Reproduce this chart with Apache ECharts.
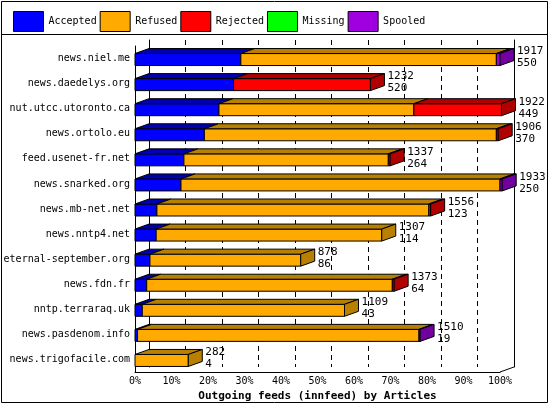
<!DOCTYPE html><html><head><meta charset="utf-8">
<script src="https://cdn.jsdelivr.net/npm/echarts@6/dist/echarts.min.js"></script>
<style>html,body{margin:0;padding:0;background:#fff}#c{width:550px;height:405px}</style></head><body><div id="c"></div>
<script>
const categories=["news.niel.me","news.daedelys.org","nut.utcc.utoronto.ca","news.ortolo.eu","feed.usenet-fr.net","news.snarked.org","news.mb-net.net","news.nntp4.net","eternal-september.org","news.fdn.fr","nntp.terraraq.uk","news.pasdenom.info","news.trigofacile.com"];
const accepted=[29,27,23,19,13.4,12.6,6,5.8,4.1,3.2,2,0.7,0];
const refused=[70,0,53.4,80,56,87.4,74.5,61.8,41.3,67.3,55.4,77.1,14.6];
const rejected=[0,37.5,24,0.5,0.5,0,0.5,0,0,0.5,0,0,0];
const missing=[0,0,0,0,0,0,0,0,0,0,0,0,0];
const spooled=[1,0,0,0,0,0.6,0,0,0,0,0,0.3,0];
const totals=[1917,1232,1922,1906,1337,1933,1556,1307,878,1373,1109,1510,282];
const acceptedCount=[550,520,449,370,264,250,123,114,86,64,43,19,4];
const tickLabels=["0%","10%","20%","30%","40%","50%","60%","70%","80%","90%","100%"];
const names=["Accepted","Refused","Rejected","Missing","Spooled"];
const fronts=["#0000ff","#ffaa00","#ff0000","#00ff00","#a000e0"];
const tops=["#0000b0","#b88000","#b00000","#00b000","#7000a0"];
const sets=[accepted,refused,rejected,missing,spooled];
const DX=14,DY=5,FONT='"DejaVu Sans Mono",monospace';
const cum=categories.map(()=>0);
const series=sets.map((arr,si)=>{
  const data=arr.map((v,i)=>{const s=cum[i];cum[i]+=v;return [s,s+v,i];});
  return {name:names[si],type:'custom',xAxisIndex:0,yAxisIndex:0,itemStyle:{color:fronts[si]},data,
   renderItem:(p,api)=>{
    const a=api.value(0),b=api.value(1),ci=api.value(2);
    if(b-a<=0) return null;
    let last=true;for(let k=si+1;k<sets.length;k++) if(sets[k][ci]>0) last=false;
    const s=api.coord([a,ci]),e=api.coord([b,ci]);
    const h=12,y0=s[1]-h/2+1,y1=y0+h,x0=s[0],x1=e[0];
    const st={stroke:'#000',lineWidth:1};
    const ch=[
     {type:'rect',shape:{x:x0,y:y0,width:x1-x0,height:h},style:Object.assign({fill:fronts[si]},st)},
     {type:'polygon',shape:{points:[[x0,y0],[x1,y0],[x1+DX,y0-DY],[x0+DX,y0-DY]]},style:Object.assign({fill:tops[si]},st)}];
    if(last){
     ch.push({type:'polygon',shape:{points:[[x1,y0],[x1+DX,y0-DY],[x1+DX,y1-DY],[x1,y1]]},style:Object.assign({fill:tops[si]},st)});
     ch.push({type:'text',style:{x:x1+DX+3,y:y0-DY-3,text:totals[ci]+"\n"+acceptedCount[ci],font:'11px '+FONT,lineHeight:12,fill:'#000'}});
    }
    return {type:'group',children:ch};
   }};
});
const chart=echarts.init(document.getElementById('c'));
chart.setOption({animation:false,
 legend:{left:8,top:6,itemWidth:30,itemHeight:20,itemGap:3,icon:'rect',data:names,
   textStyle:{fontFamily:FONT,fontSize:10,color:'#000',width:72},itemStyle:{borderColor:'#000',borderWidth:1}},
 grid:[{left:135,right:50,top:46,bottom:33,outerBoundsMode:'none',containLabel:false},
       {left:149,right:36,top:40,bottom:38,outerBoundsMode:'none',containLabel:false}],
 xAxis:[{type:'value',gridIndex:0,min:0,max:100,interval:10,
   axisLabel:{formatter:v=>tickLabels[Math.round(v/10)],fontFamily:FONT,fontSize:10,color:'#000',margin:4},
   axisLine:{show:true,lineStyle:{color:'#000'}},axisTick:{show:false},splitLine:{show:false},
   name:'Outgoing feeds (innfeed) by Articles',nameLocation:'middle',nameGap:17,
   nameTextStyle:{fontFamily:FONT,fontSize:11,fontWeight:'bold',color:'#000'}},
  {type:'value',gridIndex:1,min:0,max:100,interval:10,axisLabel:{show:false},axisLine:{show:false},axisTick:{show:false},
   splitLine:{show:true,lineStyle:{color:'#000',type:[5,4]}}}],
 yAxis:[{type:'category',gridIndex:0,data:categories,inverse:true,
   axisLabel:{fontFamily:FONT,fontSize:10,color:'#000',margin:5},axisTick:{show:false},
   axisLine:{show:true,lineStyle:{color:'#000'}}},
  {type:'category',gridIndex:1,data:categories,inverse:true,axisLabel:{show:false},axisTick:{show:false},
   axisLine:{show:true,lineStyle:{color:'#000'}}},
  {type:'category',gridIndex:1,position:'right',data:categories,inverse:true,axisLabel:{show:false},axisTick:{show:false},
   axisLine:{show:true,lineStyle:{color:'#000'}}}],
 graphic:[{type:'rect',shape:{x:1.5,y:1.5,width:546,height:401},style:{fill:'none',stroke:'#000',lineWidth:1},silent:true},
  {type:'line',shape:{x1:2,y1:34.5,x2:548,y2:34.5},style:{stroke:'#000',lineWidth:1},silent:true},
  {type:'line',shape:{x1:500,y1:372,x2:514,y2:367},style:{stroke:'#000',lineWidth:1},silent:true}],
 series});
</script></body></html>
